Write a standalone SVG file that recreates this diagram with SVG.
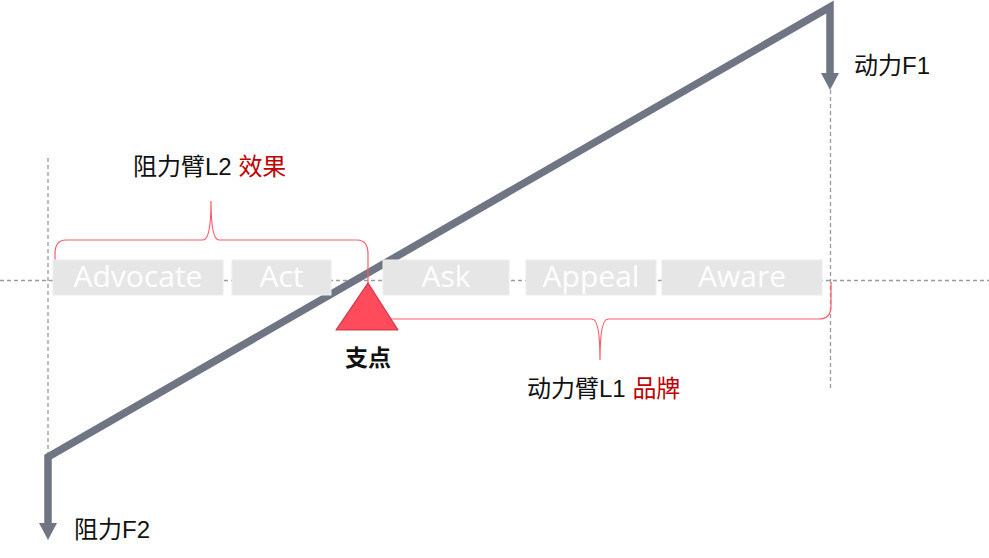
<svg xmlns="http://www.w3.org/2000/svg" width="989" height="558" viewBox="0 0 989 558">
<style>
.guide{fill:none;stroke:#9a9a9a;stroke-width:1.3;stroke-dasharray:4 3}
.lever{fill:none;stroke:#6f7583;stroke-width:7.5;stroke-linejoin:miter}
.brace{fill:none;stroke:#ff5a6b;stroke-width:1.2}
.box{fill:#e6e6e6;stroke:#ececec;stroke-width:1}
.stage{font-family:"Open Sans","Noto Sans",sans-serif;font-size:30px;fill:#ffffff;text-anchor:middle}
.lbl{font-family:"Liberation Sans","Noto Sans CJK SC",sans-serif;font-size:24px;fill:#111111}
.red{fill:#c00000}
</style>
<defs>
<marker id="arrow" markerUnits="userSpaceOnUse" markerWidth="18" markerHeight="18" refX="0" refY="9" orient="auto-start-reverse" viewBox="0 0 17 18">
<path d="M0,0 L17,9 L0,18 z" fill="#6f7583"/>
</marker>
</defs>
<g id="guides">
<line class="guide" x1="0" y1="280.5" x2="989" y2="280.5"/>
<line class="guide" x1="48" y1="158" x2="48" y2="455"/>
<line class="guide" x1="830.5" y1="90" x2="830.5" y2="390"/>
</g>
<g id="connectors">
<path class="lever" d="M830 73 L830 7 L48 457 L48 523" marker-start="url(#arrow)" marker-end="url(#arrow)"/>
<path class="brace" d="M55 283 L55 254 Q55 240 66 240 L203 240 Q211 240 211 201 Q211 240 219 240 L357 240 Q368 240 368 254 L368 283"/>
<path class="brace" d="M368 283 L368 306 Q368 319 381 319 L592 319 Q600 319 600 360 Q600 319 608 319 L819 319 Q831 319 831 306 L831 282"/>
</g>
<g id="node-advocate"><rect class="box" x="53" y="260" width="170" height="35"/><text class="stage" x="138" y="287">Advocate</text></g>
<g id="node-act"><rect class="box" x="232" y="260" width="99" height="35"/><text class="stage" x="281.5" y="287">Act</text></g>
<g id="node-ask"><rect class="box" x="383" y="260" width="126" height="35"/><text class="stage" x="446" y="287">Ask</text></g>
<g id="node-appeal"><rect class="box" x="526" y="260" width="130" height="35"/><text class="stage" x="591" y="287">Appeal</text></g>
<g id="node-aware"><rect class="box" x="662" y="260" width="160" height="35"/><text class="stage" x="742" y="287">Aware</text></g>
<g id="node-fulcrum">
<polygon points="368,283 336,330 398,330" fill="#ff4b5c" stroke="#c8384a" stroke-width="1.2" stroke-linejoin="round"/>
<text x="368" y="366" font-family="Liberation Sans,'Noto Sans CJK SC',sans-serif" font-size="23" font-weight="bold" text-anchor="middle" fill="#111111">支点</text>
</g>
<g id="label-l2"><text class="lbl" x="133" y="175">阻力臂L2 <tspan class="red">效果</tspan></text></g>
<g id="label-l1"><text class="lbl" x="527" y="397">动力臂L1 <tspan class="red">品牌</tspan></text></g>
<g id="label-f1"><text class="lbl" x="854" y="74">动力F1</text></g>
<g id="label-f2"><text class="lbl" x="74" y="538">阻力F2</text></g>
</svg>
